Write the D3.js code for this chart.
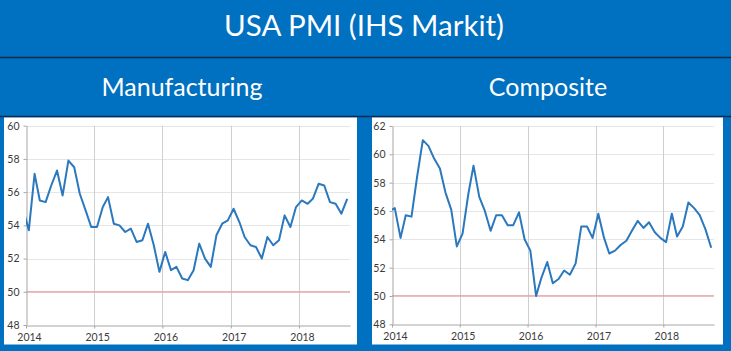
<!DOCTYPE html>
<html>
<head>
<meta charset="utf-8">
<script src="https://cdn.jsdelivr.net/npm/d3@7"></script>
<style>
  body { margin: 0; background: #0070c0; }
  svg { display: block; }
</style>
</head>
<body>
<div id="main"></div>
<script>
// monthly readings, first value is Dec 2013 (clipped at the axis), last is Sep 2018
const manufacturing = [
  55.0,
  53.7, 57.1, 55.5, 55.4, 56.4, 57.3, 55.8, 57.9, 57.5, 55.9, 54.9, 53.9,
  53.9, 55.1, 55.7, 54.1, 54.0, 53.6, 53.8, 53.0, 53.1, 54.1, 52.8, 51.2,
  52.4, 51.3, 51.5, 50.8, 50.7, 51.3, 52.9, 52.0, 51.5, 53.4, 54.1, 54.3,
  55.0, 54.2, 53.3, 52.8, 52.7, 52.0, 53.3, 52.8, 53.1, 54.6, 53.9, 55.1,
  55.5, 55.3, 55.6, 56.5, 56.4, 55.4, 55.3, 54.7, 55.6
];
const composite = [
  56.0,
  56.2, 54.1, 55.7, 55.6, 58.4, 61.0, 60.6, 59.7, 59.0, 57.3, 56.1, 53.5,
  54.4, 57.2, 59.2, 57.0, 56.0, 54.6, 55.7, 55.7, 55.0, 55.0, 55.9, 54.0,
  53.2, 50.0, 51.3, 52.4, 50.9, 51.2, 51.8, 51.5, 52.3, 54.9, 54.9, 54.1,
  55.8, 54.1, 53.0, 53.2, 53.6, 53.9, 54.6, 55.3, 54.8, 55.2, 54.5, 54.1,
  53.8, 55.8, 54.2, 54.9, 56.6, 56.2, 55.7, 54.7, 53.4
];
const firstMonth = new Date(2013, 11, 16);
const yearTicks = [2014, 2015, 2016, 2017, 2018];
const mfgTicks = [48, 50, 52, 54, 56, 58, 60];
const compTicks = [48, 50, 52, 54, 56, 58, 60, 62];
const threshold = 50;

const width = 731, height = 351;
const svg = d3.select('#main').append('svg')
  .attr('width', width)
  .attr('height', height);

svg.append('rect')
  .attr('width', width).attr('height', height)
  .attr('fill', '#0070c0');

svg.append('text')
  .attr('x', 364).attr('y', 36)
  .attr('text-anchor', 'middle')
  .attr('font-family', 'Lato')
  .attr('font-size', 29.5)
  .attr('fill', '#ffffff')
  .text('USA PMI (IHS Markit)');

svg.append('line')
  .attr('x1', 0).attr('x2', width)
  .attr('y1', 57.5).attr('y2', 57.5)
  .attr('stroke', '#12294a').attr('stroke-width', 1.5);

svg.append('text')
  .attr('x', 182).attr('y', 96)
  .attr('text-anchor', 'middle')
  .attr('font-family', 'Lato')
  .attr('font-size', 25)
  .attr('fill', '#ffffff')
  .text('Manufacturing');

svg.append('text')
  .attr('x', 548).attr('y', 96)
  .attr('text-anchor', 'middle')
  .attr('font-family', 'Lato')
  .attr('font-size', 25)
  .attr('fill', '#ffffff')
  .text('Composite');

svg.append('line')
  .attr('x1', 0).attr('x2', width)
  .attr('y1', 116.5).attr('y2', 116.5)
  .attr('stroke', '#12294a').attr('stroke-width', 1.5);

function drawPanel(id, values, ticks, box, plot) {
  const g = svg.append('g');
  g.append('rect')
    .attr('x', box.x).attr('y', box.y)
    .attr('width', box.w).attr('height', box.h)
    .attr('fill', '#ffffff');

  const x = d3.scaleTime()
    .domain([new Date(2014, 0, 1), new Date(2018, 9, 1)])
    .range([plot.left, plot.right]);
  const y = d3.scaleLinear()
    .domain([d3.min(ticks), d3.max(ticks)])
    .range([plot.bottom, plot.top]);

  // horizontal grid
  g.append('g')
    .selectAll('line')
    .data(ticks.slice(1))
    .join('line')
      .attr('x1', plot.left).attr('x2', plot.right)
      .attr('y1', d => Math.round(y(d)) + 0.5)
      .attr('y2', d => Math.round(y(d)) + 0.5)
      .attr('stroke', '#e6e6e6')
      .attr('stroke-width', 1);

  // vertical grid at years
  g.append('g')
    .selectAll('line')
    .data(yearTicks.slice(1))
    .join('line')
      .attr('x1', d => Math.round(x(new Date(d, 0, 1))) + 0.5)
      .attr('x2', d => Math.round(x(new Date(d, 0, 1))) + 0.5)
      .attr('y1', plot.top).attr('y2', plot.bottom)
      .attr('stroke', '#cfcfcf')
      .attr('stroke-width', 1);

  // threshold
  g.append('line')
    .attr('x1', plot.left).attr('x2', plot.right)
    .attr('y1', y(threshold)).attr('y2', y(threshold))
    .attr('stroke', '#e59a9e')
    .attr('stroke-width', 1.2);

  // axes
  const yAxis = d3.axisLeft(y).tickValues(ticks).tickSize(3).tickSizeOuter(0).tickPadding(4);
  const yG = g.append('g')
    .attr('transform', `translate(${Math.round(plot.left) + 0.5},0)`)
    .call(yAxis);
  const xAxis = d3.axisBottom(x)
    .tickValues(yearTicks.map(d => new Date(d, 0, 1)))
    .tickSize(3).tickSizeOuter(0).tickFormat(d3.timeFormat('%Y'));
  const xG = g.append('g')
    .attr('transform', `translate(0,${Math.round(plot.bottom) + 0.5})`)
    .call(xAxis);
  [yG, xG].forEach(a => {
    a.select('.domain').attr('stroke', '#a6a6a6');
    a.selectAll('.tick line').attr('stroke', '#a6a6a6');
    a.selectAll('text')
      .attr('font-family', 'Lato')
      .attr('font-size', 10.5)
      .attr('fill', '#3a3a3a');
  });
  xG.selectAll('text').attr('dx', 3).attr('dy', '0.9em');

  // series
  const clipId = 'clip-' + id;
  g.append('clipPath').attr('id', clipId)
    .append('rect')
      .attr('x', plot.left).attr('y', plot.top - 5)
      .attr('width', plot.right - plot.left + 5)
      .attr('height', plot.bottom - plot.top + 10);
  const line = d3.line()
    .x((d, i) => x(d3.timeMonth.offset(firstMonth, i)))
    .y(d => y(d));
  g.append('path')
    .datum(values)
    .attr('clip-path', `url(#${clipId})`)
    .attr('d', line)
    .attr('fill', 'none')
    .attr('stroke', '#2a78bd')
    .attr('stroke-width', 2)
    .attr('stroke-linejoin', 'round');
}

drawPanel('mfg', manufacturing, mfgTicks,
  { x: 4, y: 117.5, w: 353, h: 227 },
  { left: 26, right: 350, top: 125.7, bottom: 325 });
drawPanel('comp', composite, compTicks,
  { x: 372, y: 117.5, w: 351, h: 227 },
  { left: 392, right: 714, top: 126, bottom: 324.3 });
</script>
</body>
</html>
